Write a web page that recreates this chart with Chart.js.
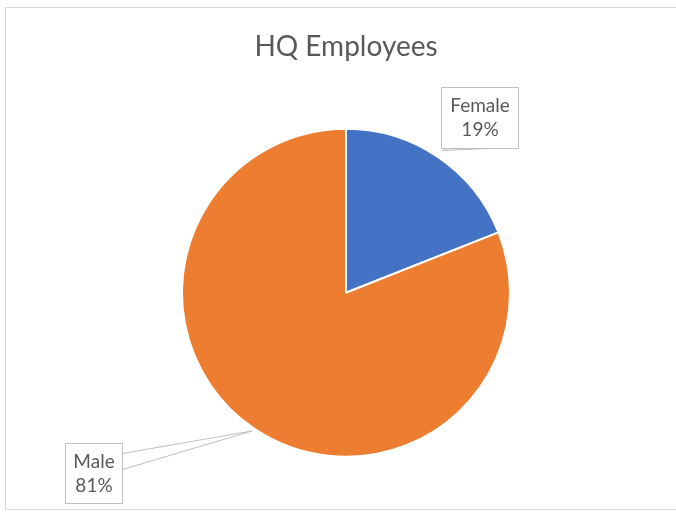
<!DOCTYPE html>
<html>
<head>
<meta charset="utf-8">
<title>HQ Employees</title>
<script src="https://cdn.jsdelivr.net/npm/chart.js@4/dist/chart.umd.min.js"></script>
<style>
  html, body { margin: 0; padding: 0; background: #fff; }
  #wrap { width: 676px; height: 513px; position: relative; }
</style>
</head>
<body>
<div id="wrap"><canvas id="chart-pie" width="676" height="513"></canvas></div>
<script>
  var categories = ["Female", "Male"];
  var headcount = [19, 81];
  var sliceColors = ["#4472C4", "#ED7D31"];

  // callout placement per slice: gap beyond the rim, box offset from the anchor, box size
  var callouts = [
    { gap: 8, dx: -2, dy: -64, w: 77, h: 61, leader: "bottom" },
    { gap: 3, dx: -187, dy: 12, w: 57, h: 60, leader: "right" }
  ];

  var frame = {
    id: "frame",
    beforeDraw: function (chart) {
      var ctx = chart.ctx;
      ctx.save();
      ctx.fillStyle = "#ffffff";
      ctx.fillRect(0, 0, chart.width, chart.height);
      ctx.strokeStyle = "#d9d9d9";
      ctx.lineWidth = 1;
      ctx.strokeRect(5.5, 7.5, 700, 502);
      ctx.restore();
    }
  };

  var calloutLabels = {
    id: "calloutLabels",
    afterDatasetsDraw: function (chart) {
      var ctx = chart.ctx;
      var meta = chart.getDatasetMeta(0);
      var data = chart.data.datasets[0].data;
      var total = data.reduce(function (a, b) { return a + b; }, 0);
      ctx.save();
      meta.data.forEach(function (arc, i) {
        var c = callouts[i];
        var p = arc.getProps(["x", "y", "startAngle", "endAngle", "outerRadius"], true);
        var mid = (p.startAngle + p.endAngle) / 2;
        var ax = p.x + Math.cos(mid) * (p.outerRadius + c.gap);
        var ay = p.y + Math.sin(mid) * (p.outerRadius + c.gap);
        var bx = Math.round(ax + c.dx) + 0.5;
        var by = Math.round(ay + c.dy) + 0.5;

        // leader wedge from the slice rim to the box
        ctx.strokeStyle = "#bfbfbf";
        ctx.lineWidth = 1;
        ctx.beginPath();
        if (c.leader === "bottom") {
          ctx.moveTo(bx + 6, by + c.h);
          ctx.lineTo(ax, ay);
          ctx.lineTo(bx + 45, by + c.h);
        } else {
          ctx.moveTo(bx + c.w, by + 10);
          ctx.lineTo(ax, ay);
          ctx.lineTo(bx + c.w, by + 26);
        }
        ctx.stroke();

        ctx.fillStyle = "#ffffff";
        ctx.fillRect(bx, by, c.w, c.h);
        ctx.strokeRect(bx, by, c.w, c.h);

        var pct = Math.round(data[i] / total * 100) + "%";
        ctx.fillStyle = "#595959";
        ctx.font = "19px Lato, sans-serif";
        ctx.textAlign = "center";
        ctx.textBaseline = "middle";
        var cx = bx + c.w / 2;
        var cy = by + c.h / 2;
        ctx.fillText(chart.data.labels[i], cx, cy - 12);
        ctx.fillText(pct, cx, cy + 12);
      });
      ctx.restore();
    }
  };

  var chart = new Chart(document.getElementById("chart-pie"), {
    type: "pie",
    data: {
      labels: categories,
      datasets: [{
        data: headcount,
        backgroundColor: sliceColors,
        borderColor: "#ffffff",
        borderWidth: 2
      }]
    },
    options: {
      responsive: false,
      animation: false,
      layout: { padding: { top: 0, left: 181, right: 165, bottom: 55 } },
      plugins: {
        legend: { display: false },
        tooltip: { enabled: false },
        title: {
          display: true,
          text: "HQ Employees",
          color: "#595959",
          font: { family: "Lato, sans-serif", size: 28, weight: "normal" },
          padding: { top: 30, bottom: 64 }
        }
      }
    },
    plugins: [frame, calloutLabels]
  });
</script>
</body>
</html>
